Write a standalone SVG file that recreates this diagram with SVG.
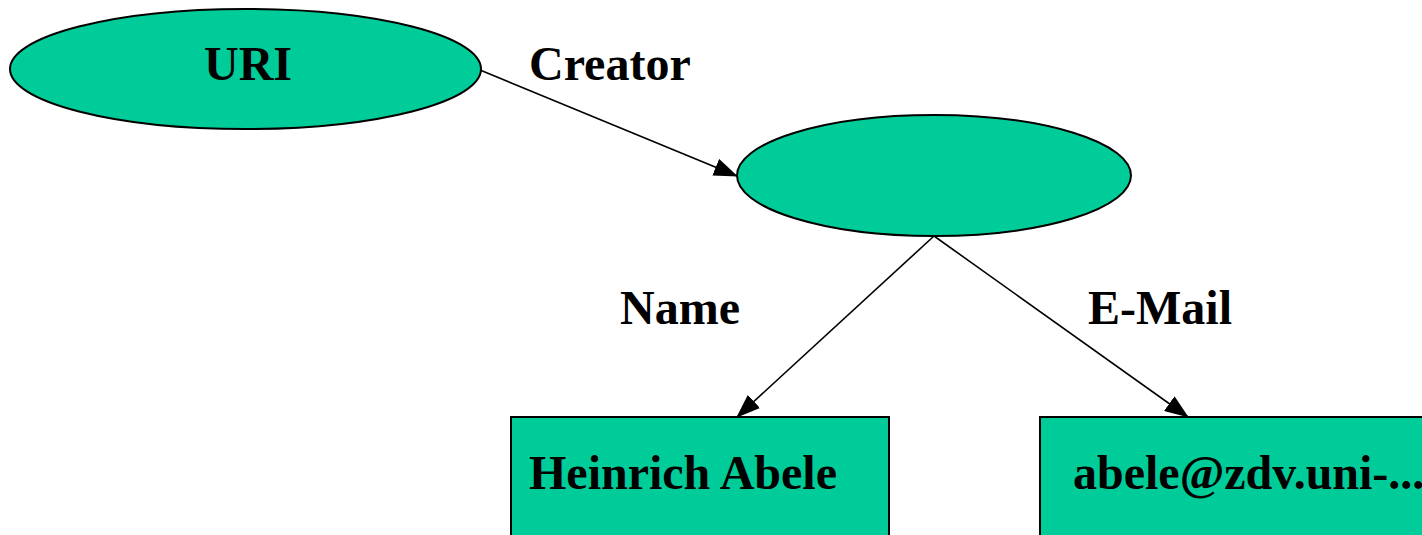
<svg xmlns="http://www.w3.org/2000/svg" width="1422" height="535" viewBox="0 0 1422 535">
  <style>
    .shape { fill: #00cc99; stroke: #000; stroke-width: 2; }
    .edge { stroke: #000; stroke-width: 1.6; fill: none; marker-end: url(#arrow); }
    text { font-family: "Liberation Serif", "Times New Roman", serif; font-weight: bold; font-size: 48px; fill: #000; }
  </style>
  <defs>
    <marker id="arrow" markerUnits="userSpaceOnUse" markerWidth="24" markerHeight="18" viewBox="0 0 24 18" refX="23" refY="9" orient="auto">
      <path d="M0,0 L24,9 L0,18 Z" fill="#000"/>
    </marker>
  </defs>
  <rect width="1422" height="535" fill="#fff"/>

  <g id="connectors">
    <line class="edge" x1="480" y1="70" x2="737" y2="176"/>
    <line class="edge" x1="934" y1="236" x2="737" y2="417"/>
    <line class="edge" x1="934" y1="236" x2="1188" y2="417"/>
    <text x="529" y="80">Creator</text>
    <text x="620" y="324">Name</text>
    <text x="1088" y="324">E-Mail</text>
  </g>

  <g id="uri">
    <ellipse class="shape" cx="245.5" cy="69" rx="235.5" ry="60"/>
    <text x="248" y="80" text-anchor="middle">URI</text>
  </g>

  <g id="creator">
    <ellipse class="shape" cx="934" cy="175.5" rx="197" ry="60.5"/>
  </g>

  <g id="name">
    <rect class="shape" x="511" y="417" width="378" height="130"/>
    <text x="529" y="489">Heinrich Abele</text>
  </g>

  <g id="email">
    <rect class="shape" x="1040" y="417" width="400" height="130"/>
    <text x="1073" y="489">abele@zdv.uni-...</text>
  </g>
</svg>
